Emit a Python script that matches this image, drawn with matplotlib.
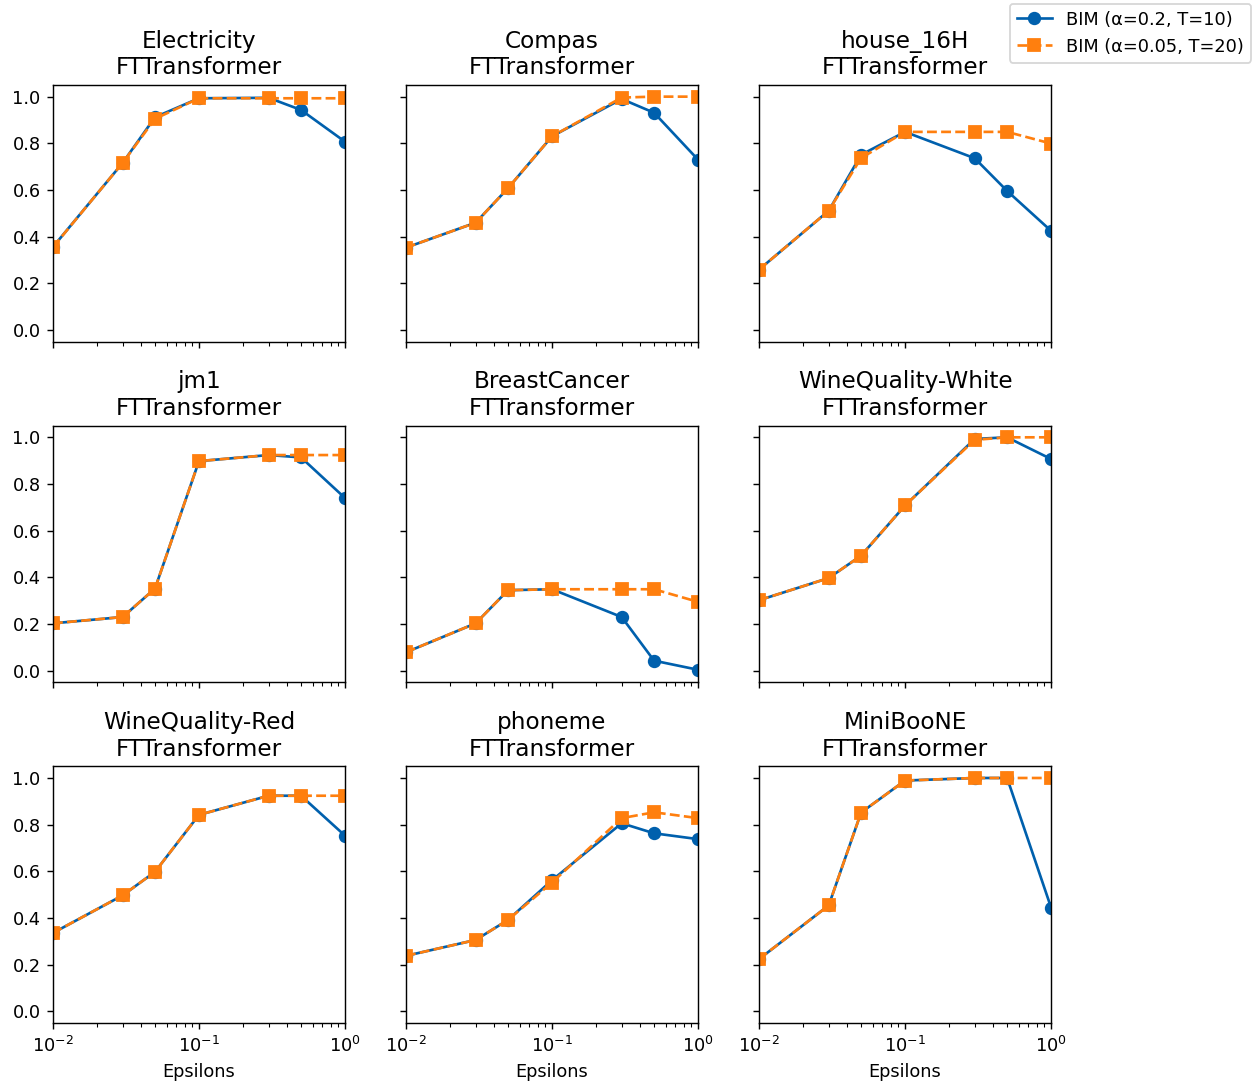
import matplotlib
matplotlib.use("Agg")
import matplotlib.pyplot as plt

# epsilon values on the x axis
epsilons = [0.01, 0.03, 0.05, 0.1, 0.3, 0.5, 1.0]

datasets = ["Electricity", "Compas", "house_16H",
            "jm1", "BreastCancer", "WineQuality-White",
            "WineQuality-Red", "phoneme", "MiniBooNE"]
model_name = "FTTransformer"

# BIM (alpha=0.2, T=10)
bim_a02 = [
    [0.356, 0.716, 0.912, 0.993, 0.995, 0.943, 0.807],
    [0.353, 0.460, 0.608, 0.830, 0.990, 0.931, 0.730],
    [0.259, 0.511, 0.751, 0.849, 0.736, 0.596, 0.425],
    [0.203, 0.230, 0.352, 0.898, 0.924, 0.914, 0.740],
    [0.079, 0.203, 0.345, 0.349, 0.230, 0.043, 0.004],
    [0.302, 0.397, 0.493, 0.708, 0.993, 1.000, 0.907],
    [0.336, 0.497, 0.598, 0.842, 0.924, 0.924, 0.753],
    [0.238, 0.306, 0.392, 0.562, 0.806, 0.763, 0.738],
    [0.224, 0.454, 0.852, 0.989, 1.000, 1.000, 0.445],
]

# BIM (alpha=0.05, T=20)
bim_a005 = [
    [0.355, 0.716, 0.905, 0.993, 0.993, 0.993, 0.993],
    [0.353, 0.460, 0.608, 0.830, 0.996, 1.000, 1.000],
    [0.259, 0.511, 0.737, 0.849, 0.849, 0.849, 0.799],
    [0.203, 0.230, 0.352, 0.898, 0.924, 0.924, 0.924],
    [0.079, 0.203, 0.345, 0.349, 0.349, 0.349, 0.295],
    [0.302, 0.397, 0.493, 0.708, 0.989, 1.000, 1.000],
    [0.336, 0.497, 0.598, 0.842, 0.924, 0.924, 0.924],
    [0.238, 0.306, 0.392, 0.552, 0.828, 0.853, 0.828],
    [0.224, 0.454, 0.852, 0.989, 1.000, 1.000, 1.000],
]

blue = "#0060ad"
orange = "#ff7f0e"

fig, axes = plt.subplots(3, 3, figsize=(1255 / 128, 1088 / 128), sharex=True, sharey=True)
axes = axes.flatten()

for i, ax in enumerate(axes):
    ax.plot(epsilons, bim_a02[i], marker="o", linestyle="-", color=blue,
            markersize=6.5, label="BIM (\u03b1=0.2, T=10)")
    ax.plot(epsilons, bim_a005[i], marker="s", linestyle="--", color=orange,
            markersize=6.5, label="BIM (\u03b1=0.05, T=20)")
    ax.set_xscale("log")
    ax.set_xlim(0.01, 1.0)
    ax.set_ylim(-0.05, 1.05)
    ax.set_title(f"{datasets[i]}\n{model_name}", fontsize=13)
    if i >= 6:
        ax.set_xlabel("Epsilons")

handles, labels = axes[0].get_legend_handles_labels()
fig.legend(handles, labels, loc="upper right", bbox_to_anchor=(1.0, 1.0), borderaxespad=0.2)

plt.subplots_adjust(left=0.0422, right=0.8375, bottom=0.0597, top=0.9219,
                    wspace=0.209, hspace=0.327)

plt.savefig("out.png", dpi=128)
plt.close()
